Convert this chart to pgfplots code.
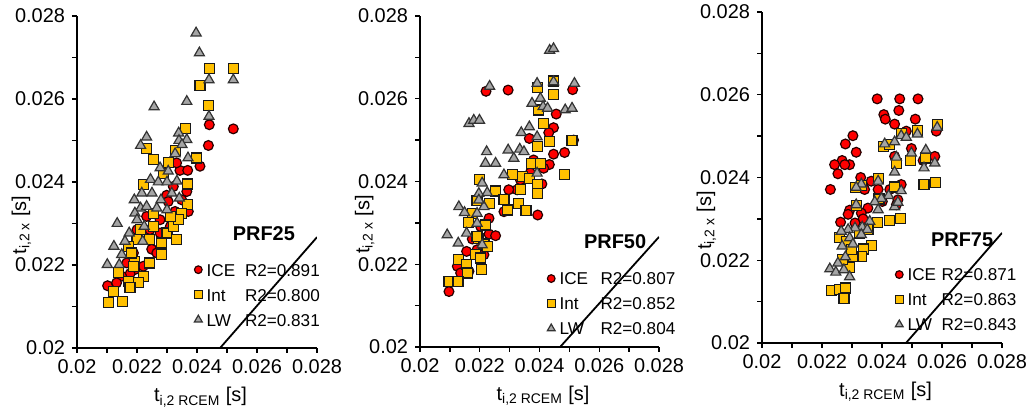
\documentclass[border=0pt]{standalone}
\usepackage{pgfplots}
\pgfplotsset{compat=1.18}
\usepackage{fontspec}
\setmainfont{Liberation Sans}
\definecolor{myorange}{HTML}{FFC000}
\definecolor{mygray}{HTML}{A5A5A5}
\pgfplotsset{
  prf/.style={
    scale only axis, width=120bp, height=166bp,
    xmin=0.02, xmax=0.028, ymin=0.02, ymax=0.028,
    axis x line*=bottom, axis y line*=left,
    xtick={0.02,0.022,0.024,0.026,0.028},
    xticklabels={0.02,0.022,0.024,0.026,0.028},
    ytick={0.02,0.022,0.024,0.026,0.028},
    yticklabels={0.02,0.022,0.024,0.026,0.028},
    minor tick num=1, tick align=outside,
    major tick length=2.5bp, minor tick length=2.5bp,
    tick style={black, line width=0.7bp},
    axis line style={black, line width=0.9bp},
    scaled ticks=false,
    ticklabel style={font=\fontsize{10}{12}\selectfont},
    label style={font=\fontsize{10}{12}\selectfont},
    xlabel={t\textsubscript{i,2 RCEM} [s]},
    ylabel={t\textsubscript{i,2 x} [s]},
    xlabel style={at={(axis description cs:0.515,-0.148)}, anchor=center},
    ylabel style={at={(axis description cs:-0.232,0.37)}, anchor=center},
    legend cell align=left,
    legend style={draw=none, fill=none, anchor=north west, inner sep=0pt,
      font=\fontsize{8.6}{10}\selectfont, row sep=4.2bp, column sep=1.2bp,
      nodes={inner sep=1bp, text height=6.3bp, text depth=0bp}},
    legend image code/.code={\draw[##1, every mark/.append style={scale=0.78}] plot coordinates {(0bp,0bp)};},
  },
  ice/.style={only marks, mark=*, mark size=2.45bp,
    mark options={fill=red, draw=black!85!red, line width=0.6bp}},
  int/.style={only marks, mark=square*, mark size=2.5bp,
    mark options={fill=myorange, draw=black!90, line width=0.6bp}},
  lw/.style={only marks, mark=triangle*, mark size=2.9bp,
    mark options={fill=mygray, draw=black!80, line width=0.6bp}},
}
\begin{document}
\begin{tikzpicture}
\useasboundingbox (0,0) rectangle (515bp,208bp);
% ---------------- PRF25 ----------------
\begin{axis}[prf, at={(38.5bp,200bp)}, anchor=north west,
  legend style={at={(0.4875,0.262)}}]
\addplot[ice] coordinates {(0.02441,0.02538)(0.02521,0.02528)(0.02438,0.02488)(0.0241,0.02438)(0.02343,0.02428)(0.02369,0.02428)(0.02332,0.02446)(0.02299,0.02368)(0.02366,0.02377)(0.02371,0.02329)(0.02327,0.02329)(0.02304,0.02353)(0.02277,0.02309)(0.02232,0.02317)(0.02249,0.02238)(0.02277,0.02277)(0.02221,0.02197)(0.022,0.02285)(0.02193,0.02189)(0.02177,0.02179)(0.02149,0.02173)(0.02102,0.0215)(0.02132,0.02157)(0.02311,0.02293)(0.02349,0.02357)(0.02243,0.02285)(0.02266,0.02229)(0.02188,0.02229)(0.02166,0.02205)(0.02321,0.02389)};
\addlegendentry{\makebox[19.2bp][l]{ICE}R2=0.891}
\addplot[int] coordinates {(0.02441,0.02673)(0.02521,0.02673)(0.0241,0.02632)(0.02438,0.02584)(0.02363,0.02528)(0.02232,0.0248)(0.02254,0.02454)(0.02329,0.02476)(0.02304,0.02446)(0.02288,0.0242)(0.02399,0.02458)(0.02369,0.02395)(0.02221,0.02393)(0.02369,0.02345)(0.02349,0.02325)(0.02254,0.02292)(0.023,0.02277)(0.02322,0.02293)(0.02333,0.02261)(0.02282,0.02253)(0.02243,0.02261)(0.022,0.02261)(0.02171,0.02245)(0.02193,0.02209)(0.02221,0.02173)(0.02241,0.02205)(0.02204,0.02157)(0.02171,0.02161)(0.02138,0.02181)(0.02177,0.02145)(0.02123,0.02137)(0.02151,0.02112)(0.02106,0.0211)(0.02282,0.02225)(0.02338,0.02309)(0.02311,0.02317)(0.02212,0.02285)(0.02254,0.02325)(0.02188,0.02197)(0.02182,0.02229)};
\addlegendentry{\makebox[19.2bp][l]{Int}R2=0.800}
\addplot[lw] coordinates {(0.02397,0.02759)(0.02408,0.02711)(0.0244,0.02646)(0.02521,0.02646)(0.0244,0.02558)(0.02366,0.02594)(0.02257,0.02581)(0.02232,0.02508)(0.02212,0.02488)(0.02339,0.02518)(0.0234,0.025)(0.02366,0.02502)(0.0235,0.0249)(0.02327,0.02468)(0.0237,0.02458)(0.02304,0.02426)(0.02245,0.02406)(0.02271,0.024)(0.023,0.024)(0.02333,0.02402)(0.02216,0.02373)(0.0225,0.02373)(0.02191,0.02357)(0.02212,0.02337)(0.02232,0.02341)(0.0228,0.02357)(0.02341,0.02361)(0.02193,0.02325)(0.022,0.02309)(0.02134,0.023)(0.02174,0.02277)(0.02224,0.02293)(0.0216,0.02257)(0.02123,0.02245)(0.02149,0.02225)(0.02101,0.02201)(0.02141,0.02201)(0.02219,0.02257)(0.02266,0.02337)(0.023,0.02333)(0.02316,0.02373)(0.02277,0.02434)};
\addlegendentry{\makebox[19.2bp][l]{LW}R2=0.831}
\addplot[black, line width=0.9bp, forget plot] coordinates {(0.02477,0.02)(0.028,0.02267)};
\node[font=\bfseries\fontsize{10}{12}\selectfont] at (axis cs:0.02623,0.02275) {PRF25};
\end{axis}
% ---------------- PRF50 ----------------
\begin{axis}[prf, at={(210bp,200bp)}, anchor=north west, width=119.5bp, height=165.5bp,
  legend style={at={(0.531,0.233)}}]
\addplot[ice] coordinates {(0.02221,0.02618)(0.02295,0.02621)(0.02511,0.02622)(0.02456,0.02563)(0.02447,0.0253)(0.02431,0.02518)(0.02366,0.02504)(0.02514,0.025)(0.02447,0.02466)(0.02484,0.0247)(0.02433,0.02441)(0.02414,0.02432)(0.02369,0.02421)(0.02408,0.02394)(0.02336,0.02404)(0.02325,0.0238)(0.02394,0.02319)(0.02281,0.02327)(0.02231,0.02311)(0.02231,0.02273)(0.02253,0.02269)(0.02175,0.02261)(0.02191,0.02235)(0.02156,0.02231)(0.02214,0.02223)(0.02125,0.02195)(0.02136,0.02179)(0.02164,0.02183)(0.02097,0.02134)(0.02203,0.02291)(0.02297,0.0238)(0.0238,0.02452)};
\addlegendentry{\makebox[20.5bp][l]{ICE}R2=0.807}
\addplot[int] coordinates {(0.02447,0.02643)(0.02392,0.02627)(0.02447,0.0261)(0.02397,0.02573)(0.02414,0.0254)(0.02433,0.02496)(0.02509,0.025)(0.02392,0.02484)(0.02373,0.02444)(0.02403,0.02444)(0.02484,0.02416)(0.0231,0.02416)(0.02342,0.02412)(0.02367,0.02408)(0.022,0.02405)(0.02392,0.02393)(0.02394,0.02371)(0.02336,0.0238)(0.02253,0.02377)(0.02233,0.02347)(0.02281,0.02357)(0.02329,0.02347)(0.02292,0.02331)(0.02355,0.0233)(0.02177,0.02323)(0.02191,0.02355)(0.02161,0.02301)(0.02219,0.02295)(0.02197,0.02263)(0.02214,0.02249)(0.02186,0.02223)(0.02203,0.02215)(0.02206,0.02187)(0.0213,0.02211)(0.02156,0.02199)(0.02158,0.02179)(0.02097,0.02158)(0.02127,0.02158)(0.02191,0.02267)(0.02225,0.02243)};
\addlegendentry{\makebox[20.5bp][l]{Int}R2=0.852}
\addplot[lw] coordinates {(0.02434,0.02717)(0.02447,0.02721)(0.02233,0.0263)(0.02392,0.02637)(0.02447,0.02641)(0.02517,0.02637)(0.02403,0.02601)(0.02412,0.02581)(0.02375,0.02589)(0.02427,0.02577)(0.02486,0.02573)(0.02509,0.02577)(0.02164,0.0254)(0.0218,0.02548)(0.02199,0.02548)(0.02366,0.02532)(0.02339,0.02518)(0.02392,0.02508)(0.02334,0.02478)(0.02295,0.02476)(0.02348,0.02472)(0.02314,0.02456)(0.02223,0.02472)(0.02219,0.02444)(0.02253,0.02444)(0.02281,0.02416)(0.02392,0.0242)(0.02208,0.02396)(0.02197,0.02371)(0.02225,0.02373)(0.0213,0.02339)(0.02149,0.02325)(0.02214,0.02339)(0.02191,0.02323)(0.02091,0.02271)(0.02128,0.02251)(0.02156,0.02275)(0.02208,0.02247)(0.02191,0.02299)(0.02197,0.02355)};
\addlegendentry{\makebox[20.5bp][l]{LW}R2=0.804}
\addplot[black, line width=0.9bp, forget plot] coordinates {(0.02469,0.02)(0.028,0.02266)};
\node[font=\bfseries\fontsize{10}{12}\selectfont] at (axis cs:0.02653,0.02254) {PRF50};
\end{axis}
% ---------------- PRF75 ----------------
\begin{axis}[prf, at={(381bp,202bp)}, anchor=north west, width=120bp, height=165.5bp,
  legend style={at={(0.554,0.233)}}]
\addplot[ice] coordinates {(0.02384,0.0259)(0.02459,0.0259)(0.0252,0.0259)(0.02406,0.02552)(0.02411,0.02541)(0.02456,0.02562)(0.02442,0.02529)(0.02511,0.02541)(0.02481,0.02512)(0.02581,0.02512)(0.02303,0.02501)(0.02278,0.02481)(0.02314,0.02461)(0.02498,0.0247)(0.02442,0.02451)(0.02576,0.02451)(0.02537,0.02441)(0.02267,0.02441)(0.02242,0.02431)(0.02292,0.02431)(0.02276,0.02431)(0.02253,0.02409)(0.02329,0.024)(0.02228,0.02371)(0.02364,0.02391)(0.02387,0.02371)(0.02342,0.02371)(0.02464,0.02383)(0.02426,0.02371)(0.02401,0.02342)(0.02453,0.02346)(0.02448,0.02334)(0.02353,0.02326)(0.02292,0.02321)(0.02331,0.02314)(0.02337,0.023)(0.02287,0.02311)(0.02262,0.02292)(0.0231,0.0229)};
\addlegendentry{\makebox[17bp][l]{ICE}R2=0.871}
\addplot[int] coordinates {(0.02584,0.02528)(0.02517,0.02513)(0.02464,0.02506)(0.02406,0.02475)(0.02426,0.02479)(0.02496,0.02441)(0.02544,0.02447)(0.02448,0.02433)(0.0254,0.02383)(0.02578,0.02388)(0.02387,0.02397)(0.02442,0.02377)(0.02311,0.02376)(0.02331,0.02381)(0.0239,0.02348)(0.02314,0.02333)(0.02384,0.02292)(0.02426,0.02296)(0.02462,0.023)(0.02353,0.02274)(0.02364,0.02236)(0.02337,0.02227)(0.02331,0.02209)(0.02303,0.02209)(0.02292,0.02183)(0.02269,0.02201)(0.02259,0.02254)(0.02281,0.02246)(0.02231,0.02126)(0.02257,0.02129)(0.02278,0.02133)(0.02273,0.02107)(0.02298,0.02226)(0.02326,0.02266)};
\addlegendentry{\makebox[17bp][l]{Int}R2=0.863}
\addplot[lw] coordinates {(0.02584,0.02521)(0.02518,0.02505)(0.02464,0.02501)(0.02481,0.02497)(0.02409,0.02481)(0.02442,0.02486)(0.02498,0.02459)(0.02546,0.02466)(0.02448,0.02449)(0.0254,0.02423)(0.02576,0.02435)(0.02442,0.02413)(0.02387,0.02391)(0.02331,0.02384)(0.02314,0.02376)(0.02464,0.02368)(0.02422,0.02356)(0.02398,0.02349)(0.02376,0.02341)(0.02387,0.02322)(0.02442,0.02329)(0.02453,0.0234)(0.02314,0.02334)(0.02359,0.02294)(0.02334,0.0228)(0.0231,0.02278)(0.02287,0.02274)(0.02264,0.0227)(0.02351,0.02274)(0.02331,0.02262)(0.02292,0.02254)(0.02267,0.02234)(0.02303,0.02239)(0.02278,0.02208)(0.02253,0.02193)(0.02226,0.02179)(0.02246,0.02171)(0.02273,0.02177)(0.02292,0.0216)};
\addlegendentry{\makebox[17bp][l]{LW}R2=0.843}
\addplot[black, line width=0.9bp, forget plot] coordinates {(0.0248,0.02)(0.028,0.02266)};
\node[font=\bfseries\fontsize{10}{12}\selectfont] at (axis cs:0.02667,0.02249) {PRF75};
\end{axis}
\end{tikzpicture}
\end{document}
